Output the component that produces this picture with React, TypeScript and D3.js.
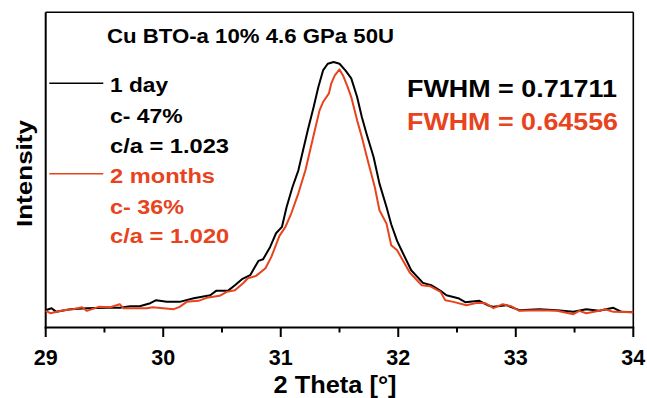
import React from "react";
import * as d3 from "d3";

// 2θ (degrees) and intensity (a.u.) for the two measurements
const theta1Day = [29.0,29.05,29.09,29.21,29.35,29.52,29.63,29.72,29.8,29.89,29.94,30.03,30.14,30.26,30.4,30.45,30.55,30.61,30.67,30.74,30.81,30.85,30.91,30.96,31.01,31.05,31.1,31.15,31.19,31.23,31.28,31.32,31.36,31.4,31.45,31.5,31.55,31.6,31.65,31.69,31.73,31.79,31.84,31.9,31.94,31.99,32.04,32.11,32.21,32.28,32.36,32.41,32.51,32.57,32.69,32.76,32.81,32.92,33.03,33.2,33.35,33.49,33.6,33.71,33.83,33.9,34.0];
const intensity1Day = [52,58,47,55,58,59,59,64,64,73,82,77,77,88,97,110,110,127,145,157,200,205,242,283,302,362,422,472,532,592,662,722,772,792,797,792,772,748,692,632,582,512,432,362,310,260,223,172,134,127,110,97,88,76,80,67,62,67,52,55,52,47,55,50,59,47,46];

const theta2Months = [29.0,29.04,29.15,29.23,29.31,29.35,29.45,29.55,29.63,29.66,29.74,29.86,29.91,30.0,30.09,30.14,30.2,30.3,30.37,30.48,30.54,30.61,30.68,30.72,30.79,30.87,30.92,30.99,31.04,31.09,31.15,31.21,31.25,31.29,31.33,31.36,31.41,31.43,31.46,31.5,31.53,31.57,31.6,31.65,31.69,31.74,31.8,31.84,31.9,31.94,31.99,32.1,32.2,32.27,32.36,32.4,32.47,32.58,32.67,32.74,32.81,32.89,32.96,33.03,33.2,33.35,33.49,33.54,33.6,33.71,33.76,33.83,34.0];
const intensity2Months = [50,43,52,55,61,50,62,61,70,58,58,58,61,58,55,62,77,80,89,95,107,112,133,148,155,178,212,276,302,343,403,472,532,592,652,677,703,733,757,775,757,722,692,622,572,502,422,352,312,247,232,164,127,124,107,82,77,67,74,73,58,70,64,50,52,50,40,50,43,50,55,47,46];

const xTicks = [29, 30, 31, 32, 33, 34];
const xMinorTicks = [29.5, 30.5, 31.5, 32.5, 33.5];

const titleText = "Cu BTO-a 10% 4.6 GPa 50U";
const legend1 = ["1 day", "c- 47%", "c/a = 1.023"];
const legend2 = ["2 months", "c- 36%", "c/a = 1.020"];
const fwhm1 = "FWHM = 0.71711";
const fwhm2 = "FWHM = 0.64556";

const BLACK = "#000000";
const RED = "#e8431c";
const FONT = "'Liberation Sans', Arial, Helvetica, sans-serif";

export default function App() {
  const W = 647, H = 398;
  const left = 45.7, right = 633.3, top = 12.3, bottom = 327.5;
  const x = d3.scaleLinear().domain([29, 34]).range([left, right]);
  const y = d3.scaleLinear().domain([0, 946.5]).range([bottom, top]);

  const line = d3
    .line<[number, number]>()
    .x((d) => x(d[0]))
    .y((d) => y(d[1]));

  const s1 = theta1Day.map((t, i) => [t, intensity1Day[i]] as [number, number]);
  const s2 = theta2Months.map((t, i) => [t, intensity2Months[i]] as [number, number]);

  const legendLens1 = [58, 72.7, 119];
  const legendLens2 = [105, 74, 119.3];
  const legendBase1 = [91.7, 122.7, 152.7];
  const legendBase2 = [182.7, 214, 243];

  return (
    <svg
      width={W}
      height={H}
      style={{ position: "absolute", left: 0, top: 0, display: "block", background: "#fff" }}
      fontFamily={FONT}
      fontWeight="bold"
    >
      <rect x={0} y={0} width={W} height={H} fill="#fff" />
      {/* frame */}
      <line x1={left} x2={right} y1={top} y2={top} stroke="#000" strokeWidth={1.6} />
      <line x1={right} x2={right} y1={top} y2={bottom} stroke="#000" strokeWidth={1.6} />
      <line x1={left} x2={left} y1={top} y2={bottom + 1} stroke="#000" strokeWidth={2} />
      <line x1={left - 1} x2={right + 1} y1={bottom} y2={bottom} stroke="#000" strokeWidth={2} />

      {/* ticks */}
      {xTicks.map((t) => (
        <g key={"t" + t}>
          <line x1={x(t)} x2={x(t)} y1={bottom} y2={bottom + 9.5} stroke="#000" strokeWidth={2} />
          <text x={x(t)} y={364.5} textAnchor="middle" fontSize={21.5} fill="#000">
            {t}
          </text>
        </g>
      ))}
      {xMinorTicks.map((t) => (
        <line key={"m" + t} x1={x(t)} x2={x(t)} y1={bottom} y2={bottom + 5} stroke="#000" strokeWidth={2} />
      ))}

      {/* axis titles */}
      <text x={335} y={393.3} textAnchor="middle" fontSize={23} textLength={123} lengthAdjust="spacingAndGlyphs">
        2 Theta [°]
      </text>
      <text
        transform={`translate(32.3,173.5) rotate(-90)`}
        textAnchor="middle"
        fontSize={22}
        textLength={107}
        lengthAdjust="spacingAndGlyphs"
      >
        Intensity
      </text>

      {/* data */}
      <path d={line(s1) || ""} fill="none" stroke={BLACK} strokeWidth={2} strokeLinejoin="round" />
      <path d={line(s2) || ""} fill="none" stroke={RED} strokeWidth={2} strokeLinejoin="round" />

      {/* title */}
      <text x={107} y={42.7} fontSize={20} fill="#000" textLength={287} lengthAdjust="spacingAndGlyphs">
        {titleText}
      </text>

      {/* legend */}
      <line x1={49.3} x2={103.3} y1={83.3} y2={83.3} stroke={BLACK} strokeWidth={1.6} />
      <line x1={49.3} x2={103.3} y1={173.8} y2={173.8} stroke={RED} strokeWidth={1.6} />
      {legend1.map((s, i) => (
        <text key={"l1" + i} x={110} y={legendBase1[i]} fontSize={21} fill={BLACK} textLength={legendLens1[i]} lengthAdjust="spacingAndGlyphs">
          {s}
        </text>
      ))}
      {legend2.map((s, i) => (
        <text key={"l2" + i} x={110} y={legendBase2[i]} fontSize={21} fill={RED} textLength={legendLens2[i]} lengthAdjust="spacingAndGlyphs">
          {s}
        </text>
      ))}

      {/* FWHM annotations */}
      <text x={407} y={96.7} fontSize={23.5} fill={BLACK} textLength={210} lengthAdjust="spacingAndGlyphs">
        {fwhm1}
      </text>
      <text x={407} y={130} fontSize={23.5} fill={RED} textLength={211} lengthAdjust="spacingAndGlyphs">
        {fwhm2}
      </text>
    </svg>
  );
}
